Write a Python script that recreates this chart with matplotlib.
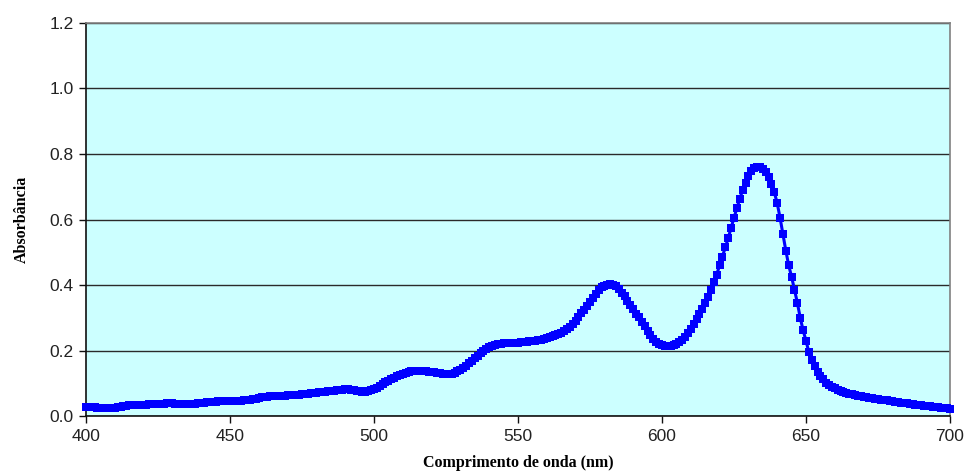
import numpy as np
import matplotlib
matplotlib.use("Agg")
import matplotlib.pyplot as plt
from matplotlib.ticker import FormatStrFormatter

# Wavelength grid (nm), one reading per nanometre
wavelength = np.arange(400, 701, 1)

# Absorbance readings, 400-700 nm
absorbance = [
    # 400-409
    0.027, 0.027, 0.027, 0.027, 0.026, 0.025, 0.024, 0.023, 0.024, 0.024,
    # 410-419
    0.025, 0.027, 0.029, 0.031, 0.032, 0.033, 0.033, 0.034, 0.034, 0.034,
    # 420-429
    0.035, 0.035, 0.036, 0.036, 0.037, 0.037, 0.038, 0.038, 0.039, 0.039,
    # 430-439
    0.039, 0.038, 0.037, 0.037, 0.036, 0.036, 0.037, 0.037, 0.038, 0.039,
    # 440-449
    0.040, 0.041, 0.043, 0.044, 0.044, 0.044, 0.045, 0.045, 0.045, 0.046,
    # 450-459
    0.047, 0.047, 0.047, 0.047, 0.047, 0.048, 0.049, 0.050, 0.051, 0.053,
    # 460-469
    0.055, 0.057, 0.058, 0.059, 0.060, 0.060, 0.061, 0.061, 0.062, 0.062,
    # 470-479
    0.063, 0.063, 0.064, 0.064, 0.065, 0.066, 0.067, 0.068, 0.069, 0.070,
    # 480-489
    0.071, 0.072, 0.073, 0.074, 0.075, 0.076, 0.077, 0.078, 0.079, 0.080,
    # 490-499
    0.081, 0.081, 0.080, 0.079, 0.077, 0.075, 0.074, 0.074, 0.076, 0.078,
    # 500-509
    0.082, 0.087, 0.093, 0.098, 0.103, 0.108, 0.113, 0.117, 0.121, 0.125,
    # 510-519
    0.128, 0.131, 0.134, 0.136, 0.137, 0.138, 0.138, 0.137, 0.136, 0.135,
    # 520-529
    0.134, 0.133, 0.131, 0.130, 0.129, 0.128, 0.128, 0.129, 0.132, 0.136,
    # 530-539
    0.141, 0.147, 0.154, 0.161, 0.168, 0.176, 0.184, 0.192, 0.199, 0.205,
    # 540-549
    0.210, 0.214, 0.218, 0.220, 0.221, 0.222, 0.222, 0.222, 0.223, 0.223,
    # 550-559
    0.224, 0.225, 0.226, 0.227, 0.228, 0.229, 0.230, 0.231, 0.232, 0.234,
    # 560-569
    0.237, 0.240, 0.243, 0.246, 0.250, 0.254, 0.259, 0.265, 0.272, 0.281,
    # 570-579
    0.291, 0.302, 0.314, 0.325, 0.337, 0.349, 0.361, 0.374, 0.385, 0.393,
    # 580-589
    0.398, 0.401, 0.402, 0.400, 0.396, 0.388, 0.377, 0.365, 0.352, 0.340,
    # 590-599
    0.327, 0.313, 0.302, 0.288, 0.274, 0.260, 0.247, 0.236, 0.226, 0.220,
    # 600-609
    0.217, 0.215, 0.214, 0.215, 0.217, 0.220, 0.226, 0.233, 0.242, 0.254,
    # 610-619
    0.267, 0.281, 0.295, 0.310, 0.326, 0.344, 0.364, 0.384, 0.408, 0.432,
    # 620-629
    0.460, 0.487, 0.515, 0.543, 0.575, 0.605, 0.635, 0.663, 0.690, 0.712,
    # 630-639
    0.733, 0.748, 0.757, 0.761, 0.760, 0.755, 0.745, 0.730, 0.708, 0.683,
    # 640-649
    0.650, 0.605, 0.555, 0.505, 0.460, 0.425, 0.385, 0.346, 0.300, 0.262,
    # 650-659
    0.230, 0.195, 0.172, 0.152, 0.135, 0.122, 0.112, 0.102, 0.096, 0.090,
    # 660-669
    0.085, 0.080, 0.076, 0.072, 0.070, 0.068, 0.066, 0.064, 0.062, 0.061,
    # 670-679
    0.059, 0.058, 0.056, 0.055, 0.053, 0.052, 0.050, 0.049, 0.048, 0.046,
    # 680-689
    0.045, 0.044, 0.042, 0.041, 0.040, 0.039, 0.037, 0.036, 0.035, 0.034,
    # 690-699
    0.033, 0.032, 0.031, 0.030, 0.029, 0.028, 0.027, 0.026, 0.025, 0.024,
    # 700
    0.022,
]

x_ticks = [400, 450, 500, 550, 600, 650, 700]
y_ticks = [0.0, 0.2, 0.4, 0.6, 0.8, 1.0, 1.2]

fig = plt.figure(figsize=(9.68, 4.72), dpi=100)
ax = fig.add_axes([0.0888, 0.1186, 0.8926, 0.8327])
ax.set_facecolor("#CCFFFF")

ax.plot(wavelength, absorbance, color="#0000FF", linewidth=2.2,
        marker="s", markersize=5.4, markeredgewidth=0, zorder=3,
        clip_on=False)

ax.set_xlim(400, 700)
ax.set_ylim(0, 1.2)
ax.set_xticks(x_ticks)
ax.set_yticks(y_ticks)
ax.yaxis.set_major_formatter(FormatStrFormatter("%.1f"))

ax.grid(axis="y", color="#2a2a2a", linewidth=1.0, zorder=1)
ax.set_axisbelow(True)

for side in ("left", "bottom"):
    ax.spines[side].set_color("#111111")
    ax.spines[side].set_linewidth(1.2)
for side in ("top", "right"):
    ax.spines[side].set_color("#808080")
    ax.spines[side].set_linewidth(1.2)

ax.tick_params(axis="both", direction="out", length=5, width=1,
               color="#111111", labelsize=12.5, labelcolor="#222222",
               pad=4)
for lbl in ax.get_xticklabels() + ax.get_yticklabels():
    lbl.set_fontfamily("Liberation Sans")

ax.set_xlabel("Comprimento de onda (nm)", fontfamily="Liberation Serif",
              fontweight="bold", fontsize=11.5, labelpad=8)
ax.set_ylabel("Absorbância", fontfamily="Liberation Serif",
              fontweight="bold", fontsize=11.5, labelpad=14)

fig.savefig("out.png", dpi=100)
